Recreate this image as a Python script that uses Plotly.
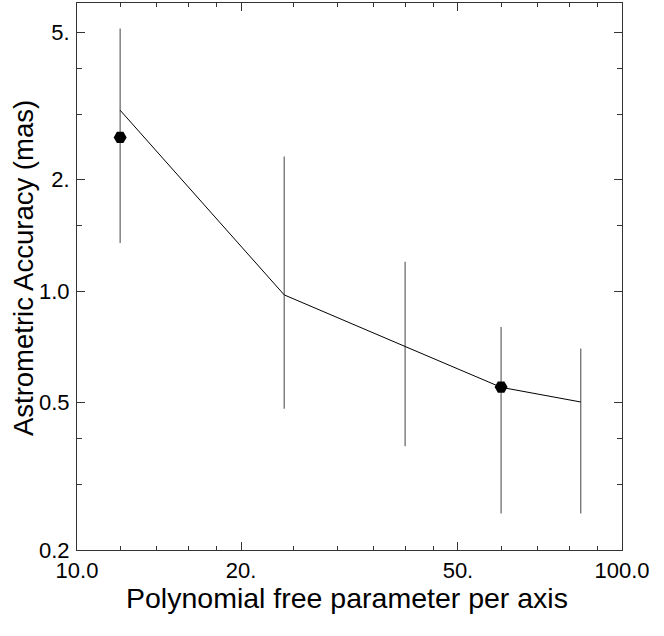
import plotly.graph_objects as go

# Data
n_params = [12, 24, 40, 60, 84]
model_acc = [3.08, 0.977, 0.709, 0.55, 0.502]
err_high = [5.12, 2.31, 1.20, 0.80, 0.70]
err_low = [1.35, 0.481, 0.381, 0.251, 0.251]
meas_x = [12, 60]
meas_y = [2.60, 0.551]

x_ticks = [10, 20, 50, 100]
x_ticktext = ["10.0", "20.", "50.", "100.0"]
x_minor = [12, 14, 16, 18, 25, 30, 35, 40, 45, 60, 70, 80, 90]
y_ticks = [0.2, 0.5, 1.0, 2.0, 5.0]
y_ticktext = ["0.2", "0.5", "1.0", "2.", "5."]
y_minor = [0.3, 0.4, 1.5, 3.0, 4.0]

FONT = "Liberation Sans, Arial, Helvetica, sans-serif"

# error bars as vertical segments
ex, ey = [], []
for xv, lo, hi in zip(n_params, err_low, err_high):
    ex += [xv, xv, None]
    ey += [lo, hi, None]

fig = go.Figure()
fig.add_trace(go.Scatter(x=ex, y=ey, mode="lines",
                         line=dict(color="#6e6e6e", width=1.3),
                         hoverinfo="skip", showlegend=False))
fig.add_trace(go.Scatter(x=n_params, y=model_acc, mode="lines",
                         line=dict(color="black", width=1),
                         showlegend=False))
fig.add_trace(go.Scatter(x=meas_x, y=meas_y, mode="markers",
                         marker=dict(symbol="hexagon2", size=13, color="black"),
                         showlegend=False))

axis_common = dict(
    type="log", showgrid=False, zeroline=False,
    showline=True, linecolor="#333333", linewidth=1.2, mirror="allticks",
    ticks="inside", ticklen=8, tickwidth=1, tickcolor="#333333",
    tickfont=dict(family=FONT, size=22, color="black"),
)

fig.update_xaxes(**axis_common, range=[1, 2],
                 tickmode="array", tickvals=x_ticks, ticktext=x_ticktext,
                 minor=dict(tickmode="array", tickvals=x_minor, ticks="inside",
                            ticklen=4, tickcolor="#333333", showgrid=False))
fig.update_yaxes(**axis_common, range=[-0.69897, 0.778151],
                 tickmode="array", tickvals=y_ticks, ticktext=y_ticktext,
                 ticklabelstandoff=2,
                 minor=dict(tickmode="array", tickvals=y_minor, ticks="inside",
                            ticklen=5, tickcolor="#333333", showgrid=False))

fig.update_layout(
    width=664, height=636,
    margin=dict(l=77, r=42, t=3, b=86),
    plot_bgcolor="white", paper_bgcolor="white",
    font=dict(family=FONT, color="black"),
    annotations=[
        dict(text="Polynomial free parameter per axis", xref="paper", yref="paper",
             x=0.495, y=-0.088, xanchor="center", yanchor="middle",
             showarrow=False, font=dict(family=FONT, size=28.5, color="black")),
        dict(text="Astrometric Accuracy (mas)", xref="paper", yref="paper",
             x=-0.099, y=0.5155, xanchor="center", yanchor="middle", textangle=-90,
             showarrow=False, font=dict(family=FONT, size=27.5, color="black")),
    ],
)

fig.write_html("out.html", config={"displayModeBar": False},
               post_script="document.body.style.margin='0';")
